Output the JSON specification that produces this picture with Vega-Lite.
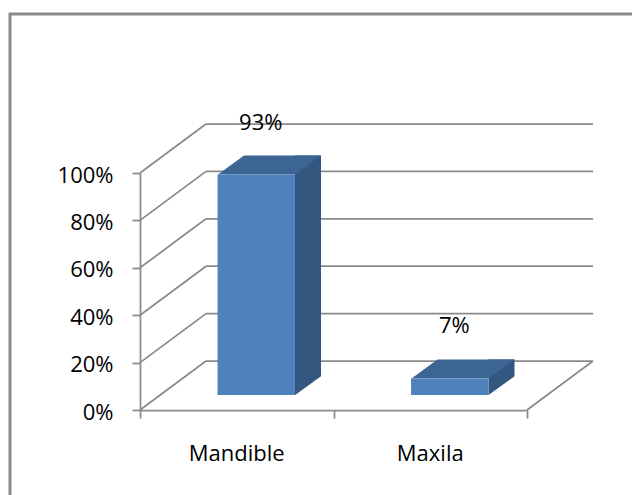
{
  "$schema": "https://vega.github.io/schema/vega-lite/v6.json",
  "width": 630,
  "height": 490,
  "autosize": {"type": "none"},
  "padding": {"left": 10, "top": 14, "right": -8, "bottom": -9},
  "background": "white",
  "config": {
    "view": {"stroke": "#8a8a8a", "strokeWidth": 3},
    "font": "Open Sans",
    "axisLeft": {"offset": -130},
    "axisBottom": {"offset": -94}
  },
  "datasets": {
    "ticks": [{"t": 0}, {"t": 0.2}, {"t": 0.4}, {"t": 0.6}, {"t": 0.8}, {"t": 1}],
    "bars": [{"part": "Mandible", "value": 0.93}, {"part": "Maxila", "value": 0.07}]
  },
  "layer": [
    {
      "data": {"name": "ticks"},
      "layer": [
        {
          "mark": {"type": "rule", "color": "#8a8a8a", "strokeWidth": 1.75, "xOffset": 66, "x2Offset": 66, "yOffset": -49},
          "encoding": {
            "x": {"datum": 0, "type": "quantitative",
              "scale": {"domain": [0, 2], "range": [130, 517], "nice": false, "zero": false},
              "axis": {"orient": "bottom", "values": [0, 1, 2], "labels": false, "title": null, "grid": false,
                "tickSize": 8, "tickColor": "#8a8a8a", "tickWidth": 1.75, "domainColor": "#8a8a8a", "domainWidth": 1.75}},
            "x2": {"datum": 2},
            "y": {"field": "t", "type": "quantitative",
              "scale": {"domain": [0, 1], "range": [396, 159], "nice": false, "zero": false},
              "axis": {"orient": "left", "values": [0, 0.2, 0.4, 0.6, 0.8, 1], "format": ".0%", "title": null, "grid": false,
                "tickSize": 8, "tickColor": "#8a8a8a", "tickWidth": 1.75, "domainColor": "#8a8a8a", "domainWidth": 1.75,
                "labelFont": "Open Sans", "labelFontSize": 22, "labelColor": "#000000", "labelPadding": 19, "labelOffset": 2}}
          }
        },
        {
          "mark": {"type": "rule", "color": "#8a8a8a", "strokeWidth": 1.75, "x2Offset": 66, "y2Offset": -49},
          "encoding": {
            "x": {"datum": 0, "type": "quantitative"},
            "x2": {"datum": 0},
            "y": {"field": "t", "type": "quantitative"},
            "y2": {"field": "t"}
          }
        },
        {
          "transform": [{"filter": "datum.t == 0"}],
          "mark": {"type": "rule", "color": "#8a8a8a", "strokeWidth": 1.75, "x2Offset": 66, "y2Offset": -49},
          "encoding": {
            "x": {"datum": 2, "type": "quantitative"},
            "x2": {"datum": 2},
            "y": {"field": "t", "type": "quantitative"},
            "y2": {"field": "t"}
          }
        }
      ]
    },
    {
      "data": {"name": "bars"},
      "layer": [
        {
          "mark": {"type": "bar", "width": 26, "xOffset": 71.25, "yOffset": -34, "y2Offset": -15, "color": "#34577f"},
          "encoding": {
            "x": {"field": "part", "type": "nominal", "sort": null,
              "scale": {"domain": ["Mandible", "Maxila"], "range": [130, 517], "paddingInner": 0.6, "paddingOuter": 0.3},
              "axis": {"orient": "bottom", "title": null, "ticks": false, "domain": false, "labelAngle": 0,
                "labelFont": "Open Sans", "labelFontSize": 22, "labelColor": "#000000", "labelPadding": 33, "labelBaseline": "top"}},
            "y": {"field": "value", "type": "quantitative"},
            "y2": {"datum": 0}
          }
        },
        {
          "mark": {"type": "point", "shape": "M 0.58 -0.148 L 0.86 -0.148 L 0.86 -0.35 Z", "size": 40000, "filled": true, "fill": "white", "strokeWidth": 0, "opacity": 1},
          "encoding": {
            "x": {"field": "part", "type": "nominal", "sort": null},
            "y": {"datum": 0, "type": "quantitative"}
          }
        },
        {
          "mark": {"type": "point", "shape": "M -0.1875 -0.15 L 0.5825 -0.15 L 0.8425 -0.34 L 0.0725 -0.34 Z", "size": 40000, "filled": true, "fill": "#3d6594", "strokeWidth": 0, "opacity": 1},
          "encoding": {
            "x": {"field": "part", "type": "nominal", "sort": null},
            "y": {"field": "value", "type": "quantitative"}
          }
        },
        {
          "mark": {"type": "bar", "xOffset": 19.5, "x2Offset": 19.5, "yOffset": -15, "y2Offset": -15, "color": "#4f81bd"},
          "encoding": {
            "x": {"field": "part", "type": "nominal", "sort": null},
            "y": {"field": "value", "type": "quantitative"},
            "y2": {"datum": 0}
          }
        },
        {
          "mark": {"type": "text", "dx": 24, "dy": -67, "fontSize": 22, "font": "Open Sans", "color": "#000000", "baseline": "middle"},
          "encoding": {
            "x": {"field": "part", "type": "nominal", "sort": null},
            "y": {"field": "value", "type": "quantitative"},
            "text": {"field": "value", "type": "quantitative", "format": ".0%"}
          }
        }
      ]
    }
  ],
  "resolve": {"scale": {"x": "independent"}, "axis": {"x": "independent"}}
}
